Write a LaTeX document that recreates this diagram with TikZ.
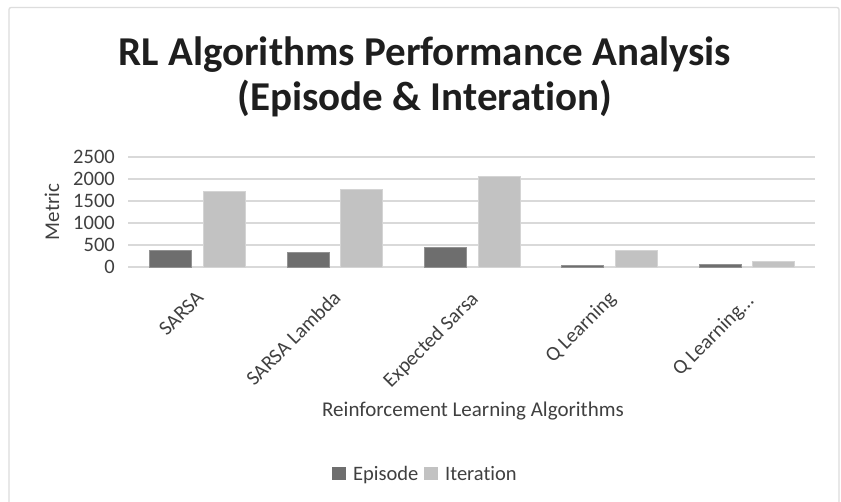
\documentclass[tikz,border=0pt]{standalone}
\usepackage{fontspec}
\setmainfont{Carlito}[Ligatures=CommonOff]
\definecolor{frameclr}{HTML}{DDDDDD}
\definecolor{gridclr}{HTML}{D9D9D9}
\definecolor{epclr}{HTML}{6E6E6E}
\definecolor{itclr}{HTML}{C2C2C2}
\definecolor{txtclr}{HTML}{404040}
\definecolor{titleclr}{HTML}{1E1E1E}
\begin{document}
\begin{tikzpicture}[x=1pt,y=-1pt,
  grid/.style={draw=gridclr,line width=1.4pt},
  ytick/.style={font=\fontsize{20.5}{24}\selectfont,text=txtclr,inner sep=0pt},
  xtick/.style={font=\fontsize{20.5}{24}\selectfont,text=txtclr,inner sep=0pt,rotate=45,anchor=base east},
  axtitle/.style={font=\fontsize{21}{24}\selectfont,text=txtclr,inner sep=0pt},
  title/.style={font=\fontsize{41}{48}\selectfont\bfseries,text=titleclr,inner sep=0pt,anchor=base},
  epbar/.style={fill=epclr,draw=epclr!75!white,line width=1pt},
  itbar/.style={fill=itclr,draw=itclr!70!white,line width=1pt},
  legtxt/.style={font=\fontsize{20.5}{24}\selectfont,text=txtclr,inner sep=0pt,anchor=base west}]
% canvas and chart frame
\useasboundingbox (0,0) rectangle (841,501);
\fill[white] (0,0) rectangle (841,501);
\draw[frameclr,line width=1.3pt,rounded corners=2pt] (9,520) -- (9,7.5) -- (839,7.5) -- (839,520);
% title
\node[title] (title1) at (425,65) {RL Algorithms Performance Analysis};
\node[title] (title2) at (425,110) {(Episode \& Interation)};
% gridlines and value labels
\foreach \v [count=\i] in {0,500,1000,1500,2000,2500} {
  \draw[grid] (128,{267-\v*0.044}) -- (815,{267-\v*0.044});
  \node[ytick,anchor=base east] (ytick\i) at (115,{267-\v*0.044+6.8}) {\v};
}
\node[axtitle,rotate=90] (ytitle) at (52,212) {Metric};
% bars: episode / iteration per algorithm
\foreach \e/\it [count=\i] in {364/1727,334/1750,439/2052,45/364,68/114} {
  \pgfmathsetmacro\c{128+137.4*(\i-0.5)}
  \draw[epbar] ({\c-47},267) rectangle ({\c-5},{267-\e*0.044});
  \draw[itbar] ({\c+6.5},267) rectangle ({\c+48.5},{267-\it*0.044});
}
% category labels
\node[xtick] (xt1) at (204.7,299) {SARSA};
\node[xtick] (xt2) at (342.1,299) {SARSA Lambda};
\node[xtick] (xt3) at (479.5,300) {Expected Sarsa};
\node[xtick] (xt4) at (616.9,300) {Q Learning};
\node[xtick] (xt5) at (755.3,302) {Q Learning...};
\node[axtitle,anchor=base] (xtitle) at (473,416) {Reinforcement Learning Algorithms};
% legend
\fill[epclr] (332,467) rectangle (346,480);
\node[legtxt] (legep) at (353,480) {Episode};
\fill[itclr] (424,467) rectangle (438,480);
\node[legtxt] (legit) at (445,480) {Iteration};
\end{tikzpicture}
\end{document}
